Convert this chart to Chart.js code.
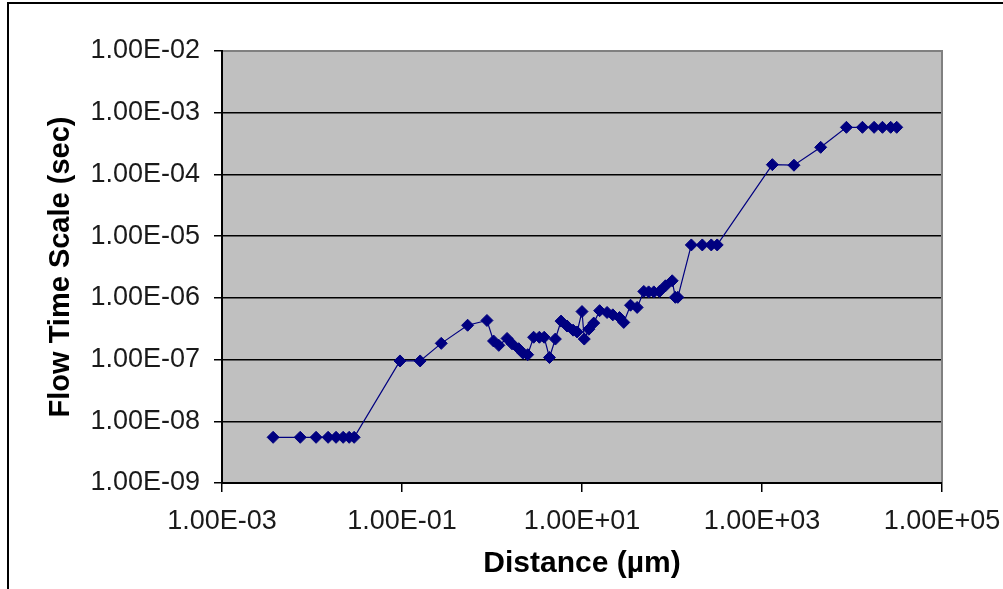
<!DOCTYPE html>
<html>
<head>
<meta charset="utf-8">
<script src="https://cdn.jsdelivr.net/npm/chart.js@4.4.1/dist/chart.umd.min.js"></script>
<style>
  html, body { margin: 0; padding: 0; background: #fff; }
</style>
</head>
<body>
<canvas id="flowChart" width="1003" height="589"></canvas>
<script>
// distance in micrometres and the matching flow time scale in seconds
const distanceUm = [
  0.0037, 0.0074, 0.0111, 0.0151, 0.0185, 0.0222, 0.0259, 0.0294,
  0.095, 0.159, 0.273, 0.536, 0.879, 1.04, 1.19, 1.47, 1.67, 1.98,
  2.21, 2.49, 2.9, 3.36, 3.8, 4.35, 5.06, 5.85, 6.82, 7.96, 8.83,
  10.0, 10.6, 11.9, 13.5, 15.7, 19.0, 22.0, 26.1, 29.1, 34.6, 41.0,
  48.6, 55, 62.8, 72.6, 84.7, 100.5, 109, 116,
  164, 217, 273, 318, 1303, 2265, 4487,
  8670, 13060, 17600, 21800, 26900, 31400
];
const flowTimeSec = [
  5.5e-9, 5.5e-9, 5.5e-9, 5.5e-9, 5.5e-9, 5.5e-9, 5.5e-9, 5.5e-9,
  9.5e-8, 9.5e-8, 1.83e-7, 3.6e-7, 4.3e-7, 2.0e-7, 1.7e-7, 2.2e-7, 1.8e-7, 1.5e-7,
  1.27e-7, 1.2e-7, 2.3e-7, 2.3e-7, 2.3e-7, 1.08e-7, 2.15e-7, 4.2e-7, 3.5e-7, 3.0e-7, 2.8e-7,
  6.0e-7, 2.15e-7, 3.1e-7, 3.9e-7, 6.2e-7, 5.8e-7, 5.3e-7, 4.8e-7, 4.0e-7, 7.6e-7, 7.0e-7,
  1.27e-6, 1.25e-6, 1.25e-6, 1.27e-6, 1.57e-6, 1.89e-6, 1.02e-6, 1.02e-6,
  7.2e-6, 7.2e-6, 7.2e-6, 7.2e-6, 1.44e-4, 1.41e-4, 2.75e-4,
  5.8e-4, 5.8e-4, 5.8e-4, 5.8e-4, 5.8e-4, 5.8e-4
];
const xTicks = [1e-3, 1e-1, 1e1, 1e3, 1e5];
const yTicks = [1e-9, 1e-8, 1e-7, 1e-6, 1e-5, 1e-4, 1e-3, 1e-2];

// excel style label, e.g. 1.00E-03
function sci(v) {
  const exp = Math.round(Math.log10(v));
  const mant = v / Math.pow(10, exp);
  const sign = exp < 0 ? '-' : '+';
  return mant.toFixed(2) + 'E' + sign + String(Math.abs(exp)).padStart(2, '0');
}

const points = distanceUm.map((d, i) => ({ x: d, y: flowTimeSec[i] }));

const frame = {
  id: 'frame',
  beforeDraw(chart) {
    const { ctx, chartArea: a } = chart;
    ctx.save();
    ctx.fillStyle = '#c0c0c0';
    ctx.fillRect(a.left, a.top, a.right - a.left, a.bottom - a.top);
    ctx.restore();
  },
  beforeDatasetsDraw(chart) {
    const { ctx, chartArea: a } = chart;
    ctx.save();
    ctx.strokeStyle = '#808080';
    ctx.lineWidth = 2;
    ctx.beginPath();
    ctx.moveTo(a.left + 1, a.top);
    ctx.lineTo(a.right, a.top);
    ctx.lineTo(a.right, a.bottom - 1);
    ctx.stroke();
    ctx.restore();
  },
  afterDraw(chart) {
    const ctx = chart.ctx;
    ctx.save();
    ctx.strokeStyle = '#000';
    ctx.lineWidth = 2;
    ctx.beginPath();
    ctx.moveTo(8, 589);
    ctx.lineTo(8, 3);
    ctx.lineTo(1003, 3);
    ctx.stroke();
    ctx.restore();
  }
};

Chart.defaults.font.family = '"Liberation Sans", Arial, sans-serif';
Chart.defaults.color = '#1a1a1a';

new Chart(document.getElementById('flowChart'), {
  type: 'scatter',
  data: {
    datasets: [{
      data: points,
      showLine: true,
      borderColor: '#000080',
      borderWidth: 1.2,
      backgroundColor: '#000080',
      pointStyle: 'rectRot',
      pointRadius: 6,
      pointBorderWidth: 1,
      pointBorderColor: '#000080',
      pointBackgroundColor: '#000080'
    }]
  },
  options: {
    responsive: false,
    animation: false,
    layout: { padding: { left: 10, top: 51, right: 61, bottom: 0 } },
    plugins: { legend: { display: false }, tooltip: { enabled: false } },
    scales: {
      x: {
        type: 'logarithmic',
        min: 1e-3,
        max: 1e5,
        afterBuildTicks: (s) => { s.ticks = xTicks.map(v => ({ value: v })); },
        afterFit: (s) => { s.height = 106; s.paddingLeft = 0; s.paddingRight = 0; },
        ticks: {
          callback: (v) => sci(v),
          font: { size: 27 },
          padding: 13,
          maxRotation: 0,
          autoSkip: false
        },
        grid: { drawOnChartArea: false, drawTicks: true, tickLength: 9, color: '#000', lineWidth: 1.5 },
        border: { display: true, color: '#000', width: 2 },
        title: {
          display: true,
          text: 'Distance (µm)',
          font: { size: 30, weight: 'bold' },
          color: '#000',
          padding: { top: 0, bottom: 7 }
        }
      },
      y: {
        type: 'logarithmic',
        min: 1e-9,
        max: 1e-2,
        afterBuildTicks: (s) => { s.ticks = yTicks.map(v => ({ value: v })); },
        afterFit: (s) => { s.width = 212; s.paddingTop = 0; s.paddingBottom = 0; },
        ticks: {
          callback: (v) => sci(v),
          font: { size: 27 },
          padding: 14,
          autoSkip: false
        },
        grid: { color: '#000', lineWidth: 1.5, drawTicks: true, tickLength: 8 },
        border: { display: true, color: '#000', width: 2 },
        title: {
          display: true,
          text: 'Flow Time Scale (sec)',
          font: { size: 29, weight: 'bold' },
          color: '#000',
          padding: { top: 34, bottom: 0 }
        }
      }
    }
  },
  plugins: [frame]
});
</script>
</body>
</html>
